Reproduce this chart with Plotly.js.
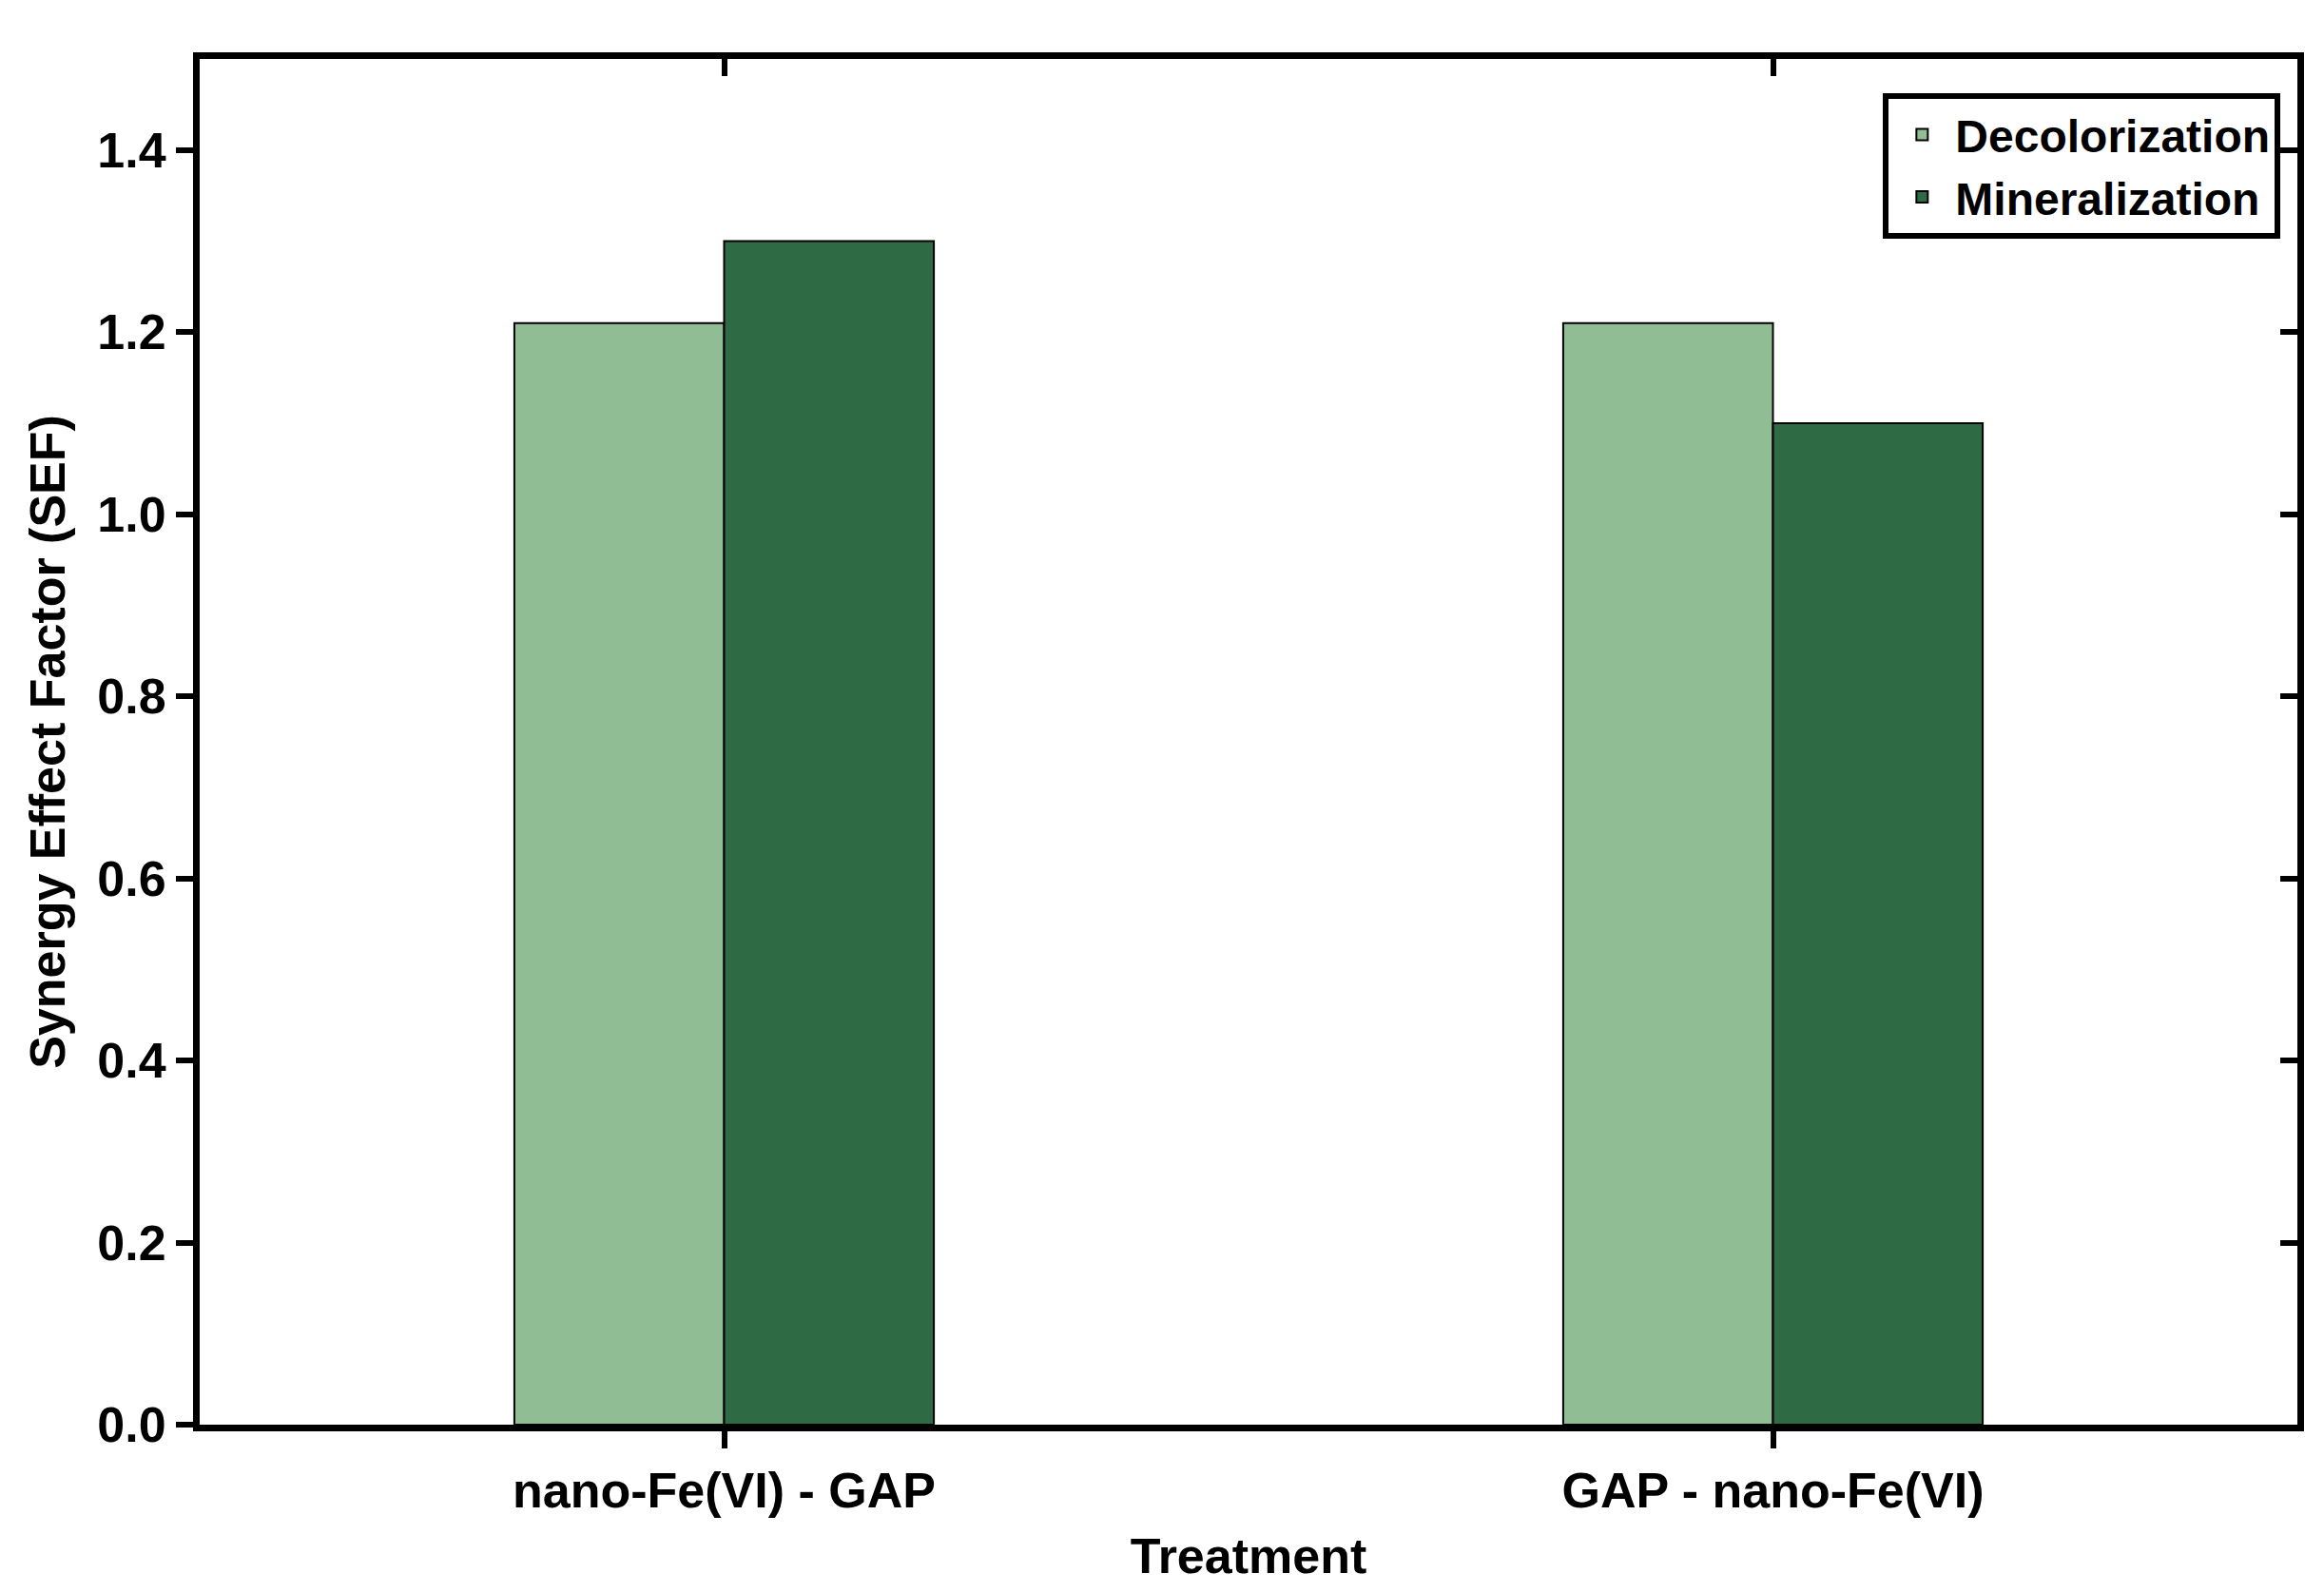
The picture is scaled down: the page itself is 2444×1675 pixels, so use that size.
<!DOCTYPE html>
<html><head><script src="https://cdn.plot.ly/plotly-3.0.1.min.js"></script>
<style>body{margin:0;background:#fff}</style></head><body>
<div id="c" style="width:2444px;height:1675px"></div>
<script>
const categories = ["nano-Fe(VI) - GAP", "GAP - nano-Fe(VI)"];
const decolorization = [1.21, 1.21];
const mineralization = [1.30, 1.10];
const yTicks = [0, 0.2, 0.4, 0.6, 0.8, 1.0, 1.2, 1.4];
const font = {family: "Liberation Sans, Arial, sans-serif", size: 52, color: "#000", weight: "bold"};
Plotly.newPlot("c", [
  {type: "bar", name: "Decolorization", x: categories, y: decolorization,
   marker: {color: "#91bd94", line: {color: "#000", width: 2}}},
  {type: "bar", name: "Mineralization", x: categories, y: mineralization,
   marker: {color: "#2e6b45", line: {color: "#000", width: 2}}},
  {type: "scatter", x: categories, y: [0, 0], xaxis: "x2", yaxis: "y2", showlegend: false,
   mode: "markers", marker: {opacity: 0}, hoverinfo: "skip"}
], {
  width: 2444, height: 1675, font: font,
  margin: {l: 210, r: 28, t: 62, b: 177},
  barmode: "group", bargap: 0.6, bargroupgap: 0,
  plot_bgcolor: "#fff", paper_bgcolor: "#fff",
  xaxis: {range: [-0.5, 1.5], showline: true, linewidth: 7, linecolor: "#000",
          ticks: "outside", ticklen: 18, tickwidth: 6, tickcolor: "#000",
          title: {text: "Treatment", font: font, standoff: 25}, tickfont: font},
  yaxis: {range: [0, 1.5], tickvals: yTicks, ticktext: yTicks.map(v => v.toFixed(1)),
          showline: true, linewidth: 7, linecolor: "#000", showgrid: false, zeroline: false,
          ticks: "outside", ticklen: 18, tickwidth: 6, tickcolor: "#000",
          title: {text: "Synergy Effect Factor (SEF)", font: font, standoff: 20}, tickfont: font},
  xaxis2: {overlaying: "x", side: "top", range: [-0.5, 1.5], showline: true, linewidth: 7, linecolor: "#000",
           ticks: "inside", ticklen: 18, tickwidth: 6, tickcolor: "#000", showticklabels: false, showgrid: false},
  yaxis2: {overlaying: "y", side: "right", range: [0, 1.5], tickvals: yTicks, showline: true, linewidth: 7,
           linecolor: "#000", ticks: "inside", ticklen: 18, tickwidth: 6, tickcolor: "#000",
           showticklabels: false, showgrid: false, zeroline: false},
  legend: {x: 0.992, xanchor: "right", y: 0.975, yanchor: "top", bgcolor: "#fff",
           bordercolor: "#000", borderwidth: 6, font: {...font, size: 48}, tracegroupgap: 0, itemwidth: 60}
}, {displayModeBar: false});
</script></body></html>
